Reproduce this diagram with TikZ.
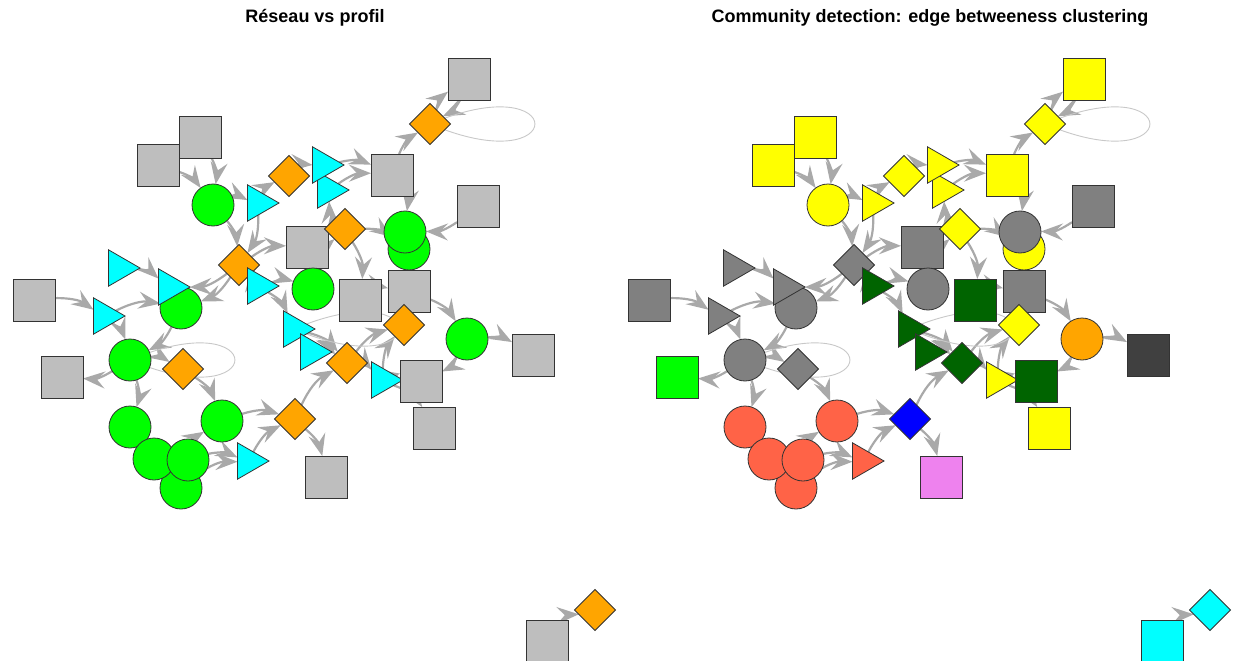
\documentclass[tikz,border=0pt]{standalone}
\usepackage{fontspec}
\newfontfamily\titlefont{Liberation Sans}
\usepackage{xcolor}
\definecolor{vertexGray}{HTML}{BEBEBE}
\definecolor{vertexGreen}{HTML}{00FF00}
\definecolor{vertexCyan}{HTML}{00FFFF}
\definecolor{vertexOrange}{HTML}{FFA500}
\definecolor{commYellow}{HTML}{FFFF00}
\definecolor{commGray}{HTML}{808080}
\definecolor{commDark}{HTML}{404040}
\definecolor{commGreen}{HTML}{006400}
\definecolor{commTomato}{HTML}{FF6347}
\definecolor{commBlue}{HTML}{0000FF}
\definecolor{commViolet}{HTML}{EE82EE}
\definecolor{edgeGray}{HTML}{A9A9A9}
\definecolor{loopGray}{HTML}{C8C8C8}
\definecolor{borderGray}{HTML}{333333}
\usepackage{tikz}
\usetikzlibrary{
    shapes.geometric,
    arrows.meta,
    backgrounds,
    calc
}
\tikzset{
    % Base style for all vertices
    vertex/.style={
        draw=borderGray,
        line width=0.8pt,
        inner sep=0pt,
        outer sep=0pt,
    },
    % Vertex shapes
    vsquare/.style={vertex, rectangle, minimum size=42pt},
    vcircle/.style={vertex, circle, minimum size=42pt},
    vdiamond/.style={vertex, diamond, minimum size=41pt},
    vtriangle/.style={
        vertex,
        regular polygon,
        regular polygon sides=3,
        shape border rotate=270,
        minimum size=42pt,
    },
    % Curved gray edge with big arrow head
    link/.style={
        draw=edgeGray,
        line width=2.2pt,
        -{Stealth[length=22pt, width=17pt, inset=8pt]},
        bend left=18,
    },
    % Thin self loop
    selfloop/.style={
        draw=loopGray,
        line width=0.9pt,
    },
    % Panel titles
    plot title/.style={
        font=\titlefont\bfseries\fontsize{18}{20}\selectfont,
        inner sep=0pt,
    },
}

\begin{document}
\begin{tikzpicture}[x=1pt, y=-1pt]
    \useasboundingbox (0,0) rectangle (1235,661);

    \node (titleLeft) [plot title] at (315,18) {Réseau vs profil};
    \node (titleRight) [plot title] at (930,18) {Community detection: edge betweeness clustering};

    % vertices: id / shape / x / y / profile colour / community colour
    \foreach \id/\shp/\x/\y/\cl/\cr in {
        1/vsquare/158/165/vertexGray/commYellow,
        2/vsquare/200/137/vertexGray/commYellow,
        3/vcircle/213/205/vertexGreen/commYellow,
        4/vtriangle/258/203/vertexCyan/commYellow,
        5/vdiamond/289/176/vertexOrange/commYellow,
        7/vtriangle/328/190/vertexCyan/commYellow,
        6/vtriangle/323/165/vertexCyan/commYellow,
        8/vsquare/392/175/vertexGray/commYellow,
        9/vdiamond/430/124/vertexOrange/commYellow,
        10/vsquare/469/79/vertexGray/commYellow,
        11/vsquare/478/206/vertexGray/commGray,
        13/vcircle/409/249/vertexGreen/commYellow,
        12/vcircle/405/232/vertexGreen/commGray,
        15/vsquare/307/247/vertexGray/commGray,
        14/vdiamond/345/229/vertexOrange/commYellow,
        16/vdiamond/239/265/vertexOrange/commGray,
        17/vtriangle/258/286/vertexCyan/commGreen,
        18/vcircle/313/289/vertexGreen/commGray,
        19/vsquare/360/300/vertexGray/commGreen,
        20/vsquare/409/291/vertexGray/commGray,
        21/vdiamond/404/325/vertexOrange/commYellow,
        22/vcircle/467/339/vertexGreen/vertexOrange,
        23/vsquare/533/355/vertexGray/commDark,
        24/vtriangle/294/329/vertexCyan/commGreen,
        25/vtriangle/311/352/vertexCyan/commGreen,
        26/vdiamond/347/363/vertexOrange/commGreen,
        27/vtriangle/382/380/vertexCyan/commYellow,
        28/vsquare/421/381/vertexGray/commGreen,
        29/vsquare/434/428/vertexGray/commYellow,
        30/vdiamond/295/419/vertexOrange/commBlue,
        31/vsquare/326/477/vertexGray/commViolet,
        32/vtriangle/119/268/vertexCyan/commGray,
        34/vcircle/181/308/vertexGreen/commGray,
        33/vtriangle/169/287/vertexCyan/commGray,
        35/vsquare/34/300/vertexGray/commGray,
        36/vtriangle/104/316/vertexCyan/commGray,
        37/vcircle/130/360/vertexGreen/commGray,
        38/vsquare/62/377/vertexGray/vertexGreen,
        39/vdiamond/183/369/vertexOrange/commGray,
        40/vcircle/130/427/vertexGreen/commTomato,
        42/vcircle/181/488/vertexGreen/commTomato,
        41/vcircle/154/459/vertexGreen/commTomato,
        43/vcircle/188/460/vertexGreen/commTomato,
        44/vcircle/222/421/vertexGreen/commTomato,
        45/vtriangle/248/461/vertexCyan/commTomato,
        46/vsquare/547/641/vertexGray/vertexCyan,
        47/vdiamond/595/610/vertexOrange/vertexCyan}
    {
        \node (L\id) [\shp, fill=\cl] at (\x,\y) {};
        \node (R\id) [\shp, fill=\cr] at (\x+615,\y) {};
    }

    % edges behind the vertices
    \begin{scope}[on background layer]
        \foreach \p in {L,R} {
            \foreach \a/\b in {1/3, 2/3, 3/4, 4/5, 5/6, 6/8, 7/8, 8/9, 9/10, 10/9,
                8/12, 11/12, 14/13, 14/7, 3/16, 4/16, 16/15, 15/14, 16/33, 16/34,
                16/17, 17/24, 17/18, 18/14, 14/19, 19/20, 20/22, 22/23, 22/28,
                21/20, 26/21, 27/21, 25/26, 24/26, 26/27, 27/28, 27/29, 30/26,
                30/31, 44/30, 45/30, 43/45, 42/45, 43/44, 40/41, 41/43, 41/42,
                42/43, 37/40, 39/44, 37/39, 37/38, 35/36, 36/37, 36/34, 34/37,
                32/33, 46/47}
                \draw[link] (\p\a) to (\p\b);
            \foreach \v in {9, 37, 24}
                \draw[selfloop] (\p\v.center)
                    .. controls ($(\p\v.center)+(23:152pt)$) and ($(\p\v.center)+(-23:152pt)$)
                    .. (\p\v.center);
        }
    \end{scope}
\end{tikzpicture}
\end{document}
